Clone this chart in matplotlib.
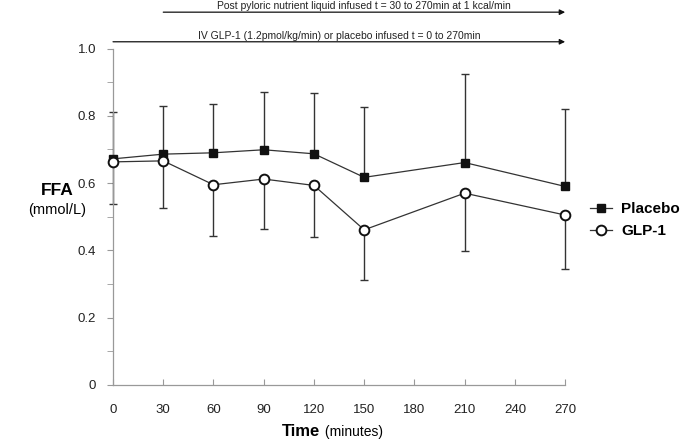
import matplotlib
matplotlib.use("Agg")
import matplotlib.pyplot as plt
import numpy as np

plt.rcParams['font.family'] = ['Liberation Sans', 'DejaVu Sans']

time_min = [0, 30, 60, 90, 120, 150, 210, 270]
placebo = [0.672, 0.686, 0.690, 0.699, 0.687, 0.617, 0.661, 0.590]
placebo_sem = [0.138, 0.144, 0.144, 0.173, 0.180, 0.210, 0.264, 0.230]
glp1 = [0.663, 0.666, 0.595, 0.612, 0.593, 0.461, 0.570, 0.505]
glp1_sem = [0.124, 0.140, 0.151, 0.149, 0.152, 0.149, 0.173, 0.161]

x_ticks = [0, 30, 60, 90, 120, 150, 180, 210, 240, 270]
y_ticks = [0, 0.2, 0.4, 0.6, 0.8, 1.0]
y_tick_labels = ["0", "0.2", "0.4", "0.6", "0.8", "1.0"]

fig = plt.figure(figsize=(6.85, 4.45), dpi=100)
ax = fig.add_axes([0.165, 0.135, 0.66, 0.756])

# error bars: placebo upward only, GLP-1 downward only
zeros = np.zeros(len(time_min))
for eb in [
    ax.errorbar(time_min, placebo, yerr=[zeros, placebo_sem], fmt="none",
                ecolor="#333333", elinewidth=1.0, capsize=3, capthick=1.0, zorder=2),
    ax.errorbar(time_min, glp1, yerr=[glp1_sem, zeros], fmt="none",
                ecolor="#333333", elinewidth=1.0, capsize=3, capthick=1.0, zorder=2),
]:
    for art in eb.get_children():
        art.set_clip_on(False)

ax.plot(time_min, placebo, color="#333333", lw=0.9, marker="s", ms=5.5,
        mfc="#111111", mec="#111111", label="Placebo", zorder=3, clip_on=False)
ax.plot(time_min, glp1, color="#333333", lw=0.9, marker="o", ms=7,
        mfc="white", mec="#111111", mew=1.4, label="GLP-1", zorder=4, clip_on=False)

ax.set_xlim(0, 270)
ax.set_ylim(0, 1.0)
ax.set_xticks(x_ticks)
ax.set_yticks(y_ticks)
ax.set_yticklabels(y_tick_labels)
ax.set_yticks(np.arange(0.1, 1.0, 0.2), minor=True)
ax.tick_params(axis="y", which="both", direction="out", length=4, color="#999999",
               labelsize=9.5, labelcolor="#222222", pad=8)
ax.tick_params(axis="x", direction="in", length=4, color="#999999",
               labelsize=9.5, labelcolor="#222222", pad=14)

for s in ["top", "right"]:
    ax.spines[s].set_visible(False)
for s in ["left", "bottom"]:
    ax.spines[s].set_color("#999999")
    ax.spines[s].set_linewidth(0.9)

# axis titles
fig.text(0.083, 0.573, "FFA", fontsize=12.5, fontweight="bold", ha="center", va="center")
fig.text(0.083, 0.528, "(mmol/L)", fontsize=10.5, ha="center", va="center")
fig.text(0.467, 0.03, "Time", fontsize=12, fontweight="bold", ha="right", va="center")
fig.text(0.469, 0.03, " (minutes)", fontsize=10, ha="left", va="center")

# infusion arrows above the plot
ax.annotate("", xy=(270, 1.108), xytext=(30, 1.108), xycoords="data",
            arrowprops=dict(arrowstyle="-|>", color="#111111", lw=0.9,
                            mutation_scale=8, shrinkA=0, shrinkB=0),
            annotation_clip=False)
ax.text(150, 1.111, "Post pyloric nutrient liquid infused t = 30 to 270min at 1 kcal/min",
        fontsize=7.5, ha="center", va="bottom", color="#222222")
ax.annotate("", xy=(270, 1.02), xytext=(0, 1.02), xycoords="data",
            arrowprops=dict(arrowstyle="-|>", color="#111111", lw=0.9,
                            mutation_scale=8, shrinkA=0, shrinkB=0),
            annotation_clip=False)
ax.text(135, 1.023, "IV GLP-1 (1.2pmol/kg/min) or placebo infused t = 0 to 270min",
        fontsize=7.5, ha="center", va="bottom", color="#222222")

leg = ax.legend(loc="center left", bbox_to_anchor=(0.861, 0.505), bbox_transform=fig.transFigure,
                frameon=False, handlelength=1.45, handletextpad=0.6, labelspacing=0.55,
                borderpad=0, borderaxespad=0, prop={"weight": "bold", "size": 11})

fig.savefig("out.png", dpi=100)
